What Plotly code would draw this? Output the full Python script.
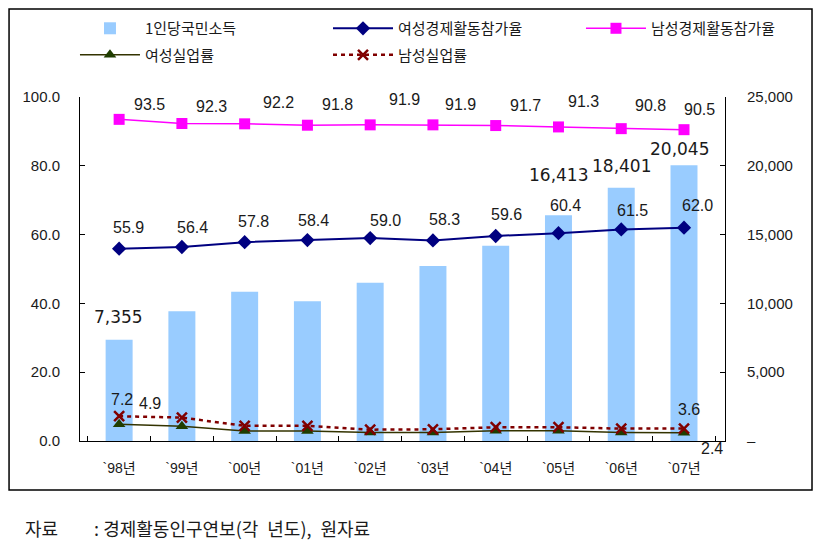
import plotly.graph_objects as go

# ---- data ----
years = ["`98년", "`99년", "`00년", "`01년", "`02년", "`03년", "`04년", "`05년", "`06년", "`07년"]
gni_per_capita = [7355, 9438, 10841, 10160, 11499, 12720, 14193, 16413, 18401, 20045]
female_lfp = [55.9, 56.4, 57.8, 58.4, 59.0, 58.3, 59.6, 60.4, 61.5, 62.0]
male_lfp = [93.5, 92.3, 92.2, 91.8, 91.9, 91.9, 91.7, 91.3, 90.8, 90.5]
female_unemp = [4.9, 4.3, 2.9, 2.9, 2.5, 2.5, 3.0, 3.0, 2.5, 2.4]
male_unemp = [7.2, 6.8, 4.4, 4.4, 3.3, 3.4, 4.0, 4.0, 3.6, 3.6]
left_tick_vals = [0, 20, 40, 60, 80, 100]
right_tick_vals = [0, 5000, 10000, 15000, 20000, 25000]
right_tick_text = ["–", "5,000", "10,000", "15,000", "20,000", "25,000"]
source_note = "자료\u3000\u3000: 경제활동인구연보(각\u2002년도),\u2002원자료"

FONT = "Liberation Sans, Arial, Noto Sans CJK KR, sans-serif"
KFONT = "Noto Sans CJK KR, Liberation Sans, sans-serif"
TXT = "#1a1a1a"

fig = go.Figure()

# bars on primary (right-side) axis so lines on y2 are drawn above them
fig.add_trace(go.Bar(
    x=years, y=gni_per_capita, name="1인당국민소득",
    marker=dict(color="#99CCFF", line=dict(width=0)),
    width=0.43, yaxis="y", legend="legend", legendgroup="g1",
))
fig.add_trace(go.Scatter(
    x=years, y=female_lfp, name="여성경제활동참가율", mode="lines+markers",
    line=dict(color="#000080", width=2),
    marker=dict(symbol="diamond", size=11, color="#000080"),
    yaxis="y2", legend="legend2", legendgroup="g2",
))
fig.add_trace(go.Scatter(
    x=years, y=male_lfp, name="남성경제활동참가율", mode="lines+markers",
    line=dict(color="#FF00FF", width=1.5),
    marker=dict(symbol="square", size=11, color="#FF00FF"),
    yaxis="y2", legend="legend3", legendgroup="g3",
))
fig.add_trace(go.Scatter(
    x=years, y=female_unemp, name="여성실업률", mode="lines+markers",
    line=dict(color="#333300", width=1.5),
    marker=dict(symbol="triangle-up", size=11, color="#1F3D00"),
    yaxis="y2", legend="legend", legendgroup="g4",
))
fig.add_trace(go.Scatter(
    x=years, y=male_unemp, name="남성실업률", mode="lines+markers",
    line=dict(color="#800000", width=2.5, dash="4px,4px"),
    marker=dict(symbol="x-thin", size=10, color="#800000",
                line=dict(color="#800000", width=2.5)),
    yaxis="y2", legend="legend2", legendgroup="g5",
))

annotations = []

def add_label(xcat, yval, text, yref, dx, dy, size=16, family=FONT):
    annotations.append(dict(
        x=xcat, y=yval, xref="x", yref=yref, text=text, showarrow=False,
        xshift=dx, yshift=dy, xanchor="center", yanchor="middle",
        font=dict(size=size, family=family, color=TXT),
    ))

male_off = [(30, 15), (30, 17), (34, 21), (30, 21), (34, 25), (28, 20), (30, 20), (25, 25), (29, 23), (15, 20)]
female_off = [(9, 21), (11, 19), (9, 21), (6, 20), (15, 18), (12, 21), (11, 21), (7, 28), (11, 19), (13, 22)]
for i, (xc, v) in enumerate(zip(years, male_lfp)):
    add_label(xc, v, f"{v:.1f}", "y2", *male_off[i])
for i, (xc, v) in enumerate(zip(years, female_lfp)):
    add_label(xc, v, f"{v:.1f}", "y2", *female_off[i])

bar_off = {0: (-1, 23), 7: (0, 40), 8: (0, 22), 9: (-5, 16)}
for i, (dx, dy) in bar_off.items():
    add_label(years[i], gni_per_capita[i], f"{gni_per_capita[i]:,}", "y", dx, dy,
              size=17, family="DejaVu Sans, sans-serif")

add_label(years[0], male_unemp[0], f"{male_unemp[0]:.1f}", "y2", 3, 17)
add_label(years[0], female_unemp[0], f"{female_unemp[0]:.1f}", "y2", 31, 21)
add_label(years[-1], male_unemp[-1], f"{male_unemp[-1]:.1f}", "y2", 5, 19)
add_label(years[-1], female_unemp[-1], f"{female_unemp[-1]:.1f}", "y2", 28, -16)

annotations.append(dict(
    x=-0.0884, y=-0.2529, xref="paper", yref="paper", text=source_note,
    showarrow=False, xanchor="left", yanchor="middle",
    font=dict(size=18, family=KFONT, color=TXT),
))

legend_common = dict(
    orientation="v", xanchor="left", yanchor="top",
    font=dict(size=15, family=KFONT, color=TXT),
    bgcolor="rgba(0,0,0,0)", borderwidth=0, tracegroupgap=4,
    itemwidth=60, traceorder="grouped",
)

fig.update_layout(
    width=814, height=538,
    template="none",
    paper_bgcolor="white", plot_bgcolor="white",
    margin=dict(l=72, r=97, t=89, b=105, autoexpand=False),
    font=dict(family=FONT, color=TXT, size=15),
    barmode="overlay",
    showlegend=True,
    legend=dict(x=-0.0078, y=1.247, **legend_common),
    legend2=dict(x=0.3845, y=1.247, **legend_common),
    legend3=dict(x=0.7767, y=1.247, **legend_common),
    xaxis=dict(
        type="category", showgrid=False, showline=True, linecolor="black", linewidth=1,
        ticks="inside", tickson="boundaries", ticklen=5, tickcolor="black",
        tickfont=dict(size=14, family=FONT, color=TXT), ticklabelstandoff=14,
        zeroline=False, automargin=False,
    ),
    yaxis=dict(
        side="right", range=[0, 25000], tickvals=right_tick_vals, ticktext=right_tick_text,
        showgrid=False, zeroline=False, showline=True, linecolor="black", linewidth=1,
        ticks="inside", ticklen=5, tickcolor="black",
        tickfont=dict(size=15, family=FONT, color=TXT), ticklabelstandoff=18,
        automargin=False,
    ),
    yaxis2=dict(
        side="left", overlaying="y", range=[0, 100], tickvals=left_tick_vals, tickformat=".1f",
        showgrid=False, zeroline=False, showline=True, linecolor="black", linewidth=1,
        ticks="inside", ticklen=5, tickcolor="black",
        tickfont=dict(size=15, family=FONT, color=TXT), ticklabelstandoff=16,
        automargin=False,
    ),
    annotations=annotations,
    shapes=[dict(
        type="rect", xref="paper", yref="paper",
        x0=-0.110, x1=1.1349, y0=-0.1424, y1=1.2558,
        line=dict(color="black", width=1.5), fillcolor="rgba(0,0,0,0)", layer="below",
    )],
)

fig.write_html("out.html")
